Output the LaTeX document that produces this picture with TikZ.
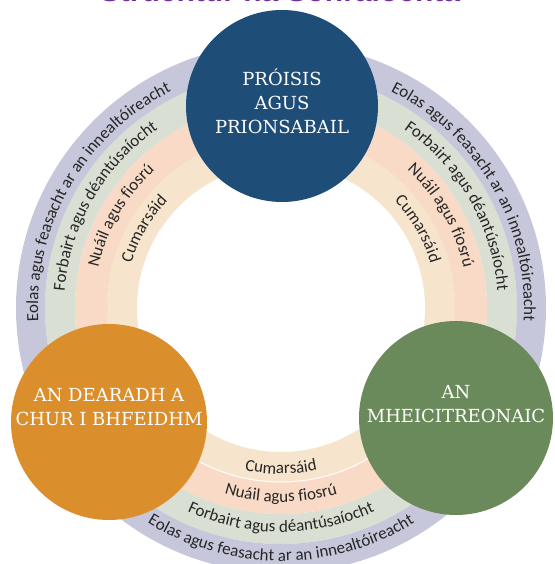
\documentclass[tikz,border=0pt]{standalone}
\usepackage{fontspec}
\usetikzlibrary{decorations.text}
\newfontfamily\ringfam{Carlito}
\newfontfamily\slabfam{DejaVu Serif}
\newfontfamily\titlefam{Liberation Sans}
\definecolor{bandlav}{HTML}{C6C7DA}
\definecolor{bandgreen}{HTML}{DADFD3}
\definecolor{bandpeach}{HTML}{F8DAC6}
\definecolor{bandcream}{HTML}{F6E4CD}
\definecolor{procblue}{HTML}{1E4D78}
\definecolor{designorange}{HTML}{DB8F2C}
\definecolor{mechgreen}{HTML}{6B8A5B}
\definecolor{titlepurple}{HTML}{7030A0}
\newcommand{\ringfont}{\ringfam\fontsize{17}{20}\selectfont\color{black!85}}
\newcommand{\band}[3] % inner radius, outer radius, colour
{
	\fill[#3, even odd rule] (0,0) circle (#2) (0,0) circle (#1);
}
\newcommand{\bandtext}[3] % baseline upper arcs, baseline lower arc, text
{
	% upper left, read upwards
	\path[decorate, decoration={text along path, text align=center, text={|\ringfont|#3}}]
		(200:#1) arc[start angle=200, end angle=100, radius=#1];
	% upper right, read downwards
	\path[decorate, decoration={text along path, text align=center, text={|\ringfont|#3}}]
		(80:#1) arc[start angle=80, end angle=-20, radius=#1];
	% bottom, read left to right
	\path[decorate, decoration={text along path, text align=center, text={|\ringfont|#3}}]
		(215:#2) arc[start angle=215, end angle=325, radius=#2];
}

\begin{document}
\begin{tikzpicture}[x=1pt, y=1pt,
	circ/.style={circle, inner sep=0pt},
	circtext/.style={text=white, align=center, font=\slabfam\fontsize{18}{24}\selectfont}]
	% image 554 x 564, origin at the ring centre
	\useasboundingbox (-281,-256) rectangle (273,308);
	
	% title, cut off by the top edge
	\node[anchor=base, text=titlepurple, font=\titlefam\bfseries\fontsize{30}{30}\selectfont] (title) at (-1,306) {Struchtúr na Sonraíochta};
	
	% rings
	\band{144}{174}{bandcream}
	\band{174}{206}{bandpeach}
	\band{206}{236}{bandgreen}
	\band{236}{265}{bandlav}
	\draw[white, line width=1] (215:174) arc[start angle=215, end angle=325, radius=174];
	
	\bandtext{156}{166}{Cumarsáid}
	\bandtext{187}{194}{Nuáil agus fiosrú}
	\bandtext{217}{224}{Forbairt agus déantúsaíocht}
	\bandtext{243}{253}{Eolas agus feasacht ar an innealtóireacht}
	
	% circles
	\node[circ, fill=procblue, minimum size=192] (proc) at (1,202) {};
	\node[circ, fill=designorange, minimum size=196] (design) at (-172,-114) {};
	\node[circ, fill=mechgreen, minimum size=194] (mech) at (175,-110) {};
	
	\node[circtext] (proctext) at ([yshift=5]proc.center) {PRÓISIS\\AGUS\\PRIONSABAIL};
	\node[circtext] (designtext) at ([yshift=15]design.center) {AN DEARADH A\\CHUR I BHFEIDHM};
	\node[circtext] (mechtext) at ([yshift=14]mech.center) {AN\\MHEICITREONAIC};
\end{tikzpicture}
\end{document}
